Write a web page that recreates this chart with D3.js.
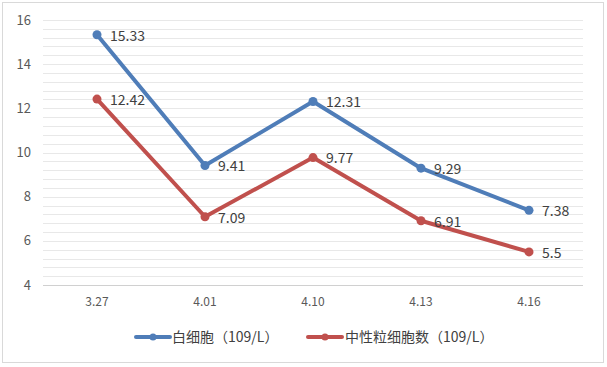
<!DOCTYPE html>
<html><head><meta charset="utf-8">
<script src="https://cdn.jsdelivr.net/npm/d3@7"></script>
<style>body{margin:0;background:#fff}svg{display:block}</style>
</head><body>
<svg id="c" width="607" height="367"></svg>
<script>
const categories = ["3.27","4.01","4.10","4.13","4.16"];
const wbc = [15.33, 9.41, 12.31, 9.29, 7.38];
const neut = [12.42, 7.09, 9.77, 6.91, 5.5];
const seriesNames = ["白细胞（109/L）","中性粒细胞数（109/L）"];
const yTicks = [4,6,8,10,12,14,16];
const colors = ["#4f7db8","#c0504d"];

const svg = d3.select("#c");
const font = "'Noto Sans CJK SC', 'Noto Sans', sans-serif";
svg.append("rect").attr("x",2.5).attr("y",2.5).attr("width",601).attr("height",360)
  .attr("fill","#fff").attr("stroke","#d9d9d9");

const x = d3.scaleBand().domain(categories).range([43,583]);
const y = d3.scaleLinear().domain([4,16]).range([285,20]);

// minor gridlines
const minor = d3.range(4,16.001,0.4);
svg.append("g").selectAll("line").data(minor).join("line")
  .attr("x1",43).attr("x2",583).attr("y1",d=>Math.round(y(d))+0.5).attr("y2",d=>Math.round(y(d))+0.5)
  .attr("stroke",d=>Math.abs(d-4)<1e-6?"#d0d0d0":"#e8e8e8").attr("stroke-width",1);

// y axis labels
svg.append("g").selectAll("text").data(yTicks).join("text")
  .attr("x",31).attr("y",d=>y(d)).attr("dy","0.35em").attr("text-anchor","end")
  .attr("font-family",font).attr("font-size",13).attr("fill","#595959").text(d=>d);

// x labels
svg.append("g").selectAll("text").data(categories).join("text")
  .attr("x",d=>x(d)+x.bandwidth()/2).attr("y",302).attr("dy","0.35em").attr("text-anchor","middle")
  .attr("font-family",font).attr("font-size",12).attr("fill","#595959").text(d=>d);

const cx = d=>x(d)+x.bandwidth()/2;
[wbc, neut].forEach((vals,i)=>{
  const pts = categories.map((c,j)=>[cx(c), y(vals[j]), vals[j]]);
  svg.append("path").attr("d", d3.line()(pts.map(p=>[p[0],p[1]])))
    .attr("fill","none").attr("stroke",colors[i]).attr("stroke-width",4).attr("stroke-linejoin","round").attr("stroke-linecap","round");
  svg.append("g").selectAll("circle").data(pts).join("circle")
    .attr("cx",p=>p[0]).attr("cy",p=>p[1]).attr("r",4.5).attr("fill",colors[i]);
  svg.append("g").selectAll("text").data(pts).join("text")
    .attr("x",p=>p[0]+13).attr("y",p=>p[1]+1).attr("dy","0.35em")
    .attr("font-family",font).attr("font-size",14).attr("fill","#404040").text(p=>p[2]);
});

// legend
const leg = [{x0:136,tx:172},{x0:308,tx:345}];
leg.forEach((l,i)=>{
  svg.append("line").attr("x1",l.x0).attr("x2",l.x0+34).attr("y1",337).attr("y2",337)
    .attr("stroke",colors[i]).attr("stroke-width",4).attr("stroke-linecap","round");
  svg.append("circle").attr("cx",l.x0+17).attr("cy",337).attr("r",3.5).attr("fill",colors[i]);
  svg.append("text").attr("x",l.tx).attr("y",337).attr("dy","0.35em")
    .attr("font-family",font).attr("font-size",14).attr("fill","#404040").text(seriesNames[i]);
});
</script>
</body></html>
